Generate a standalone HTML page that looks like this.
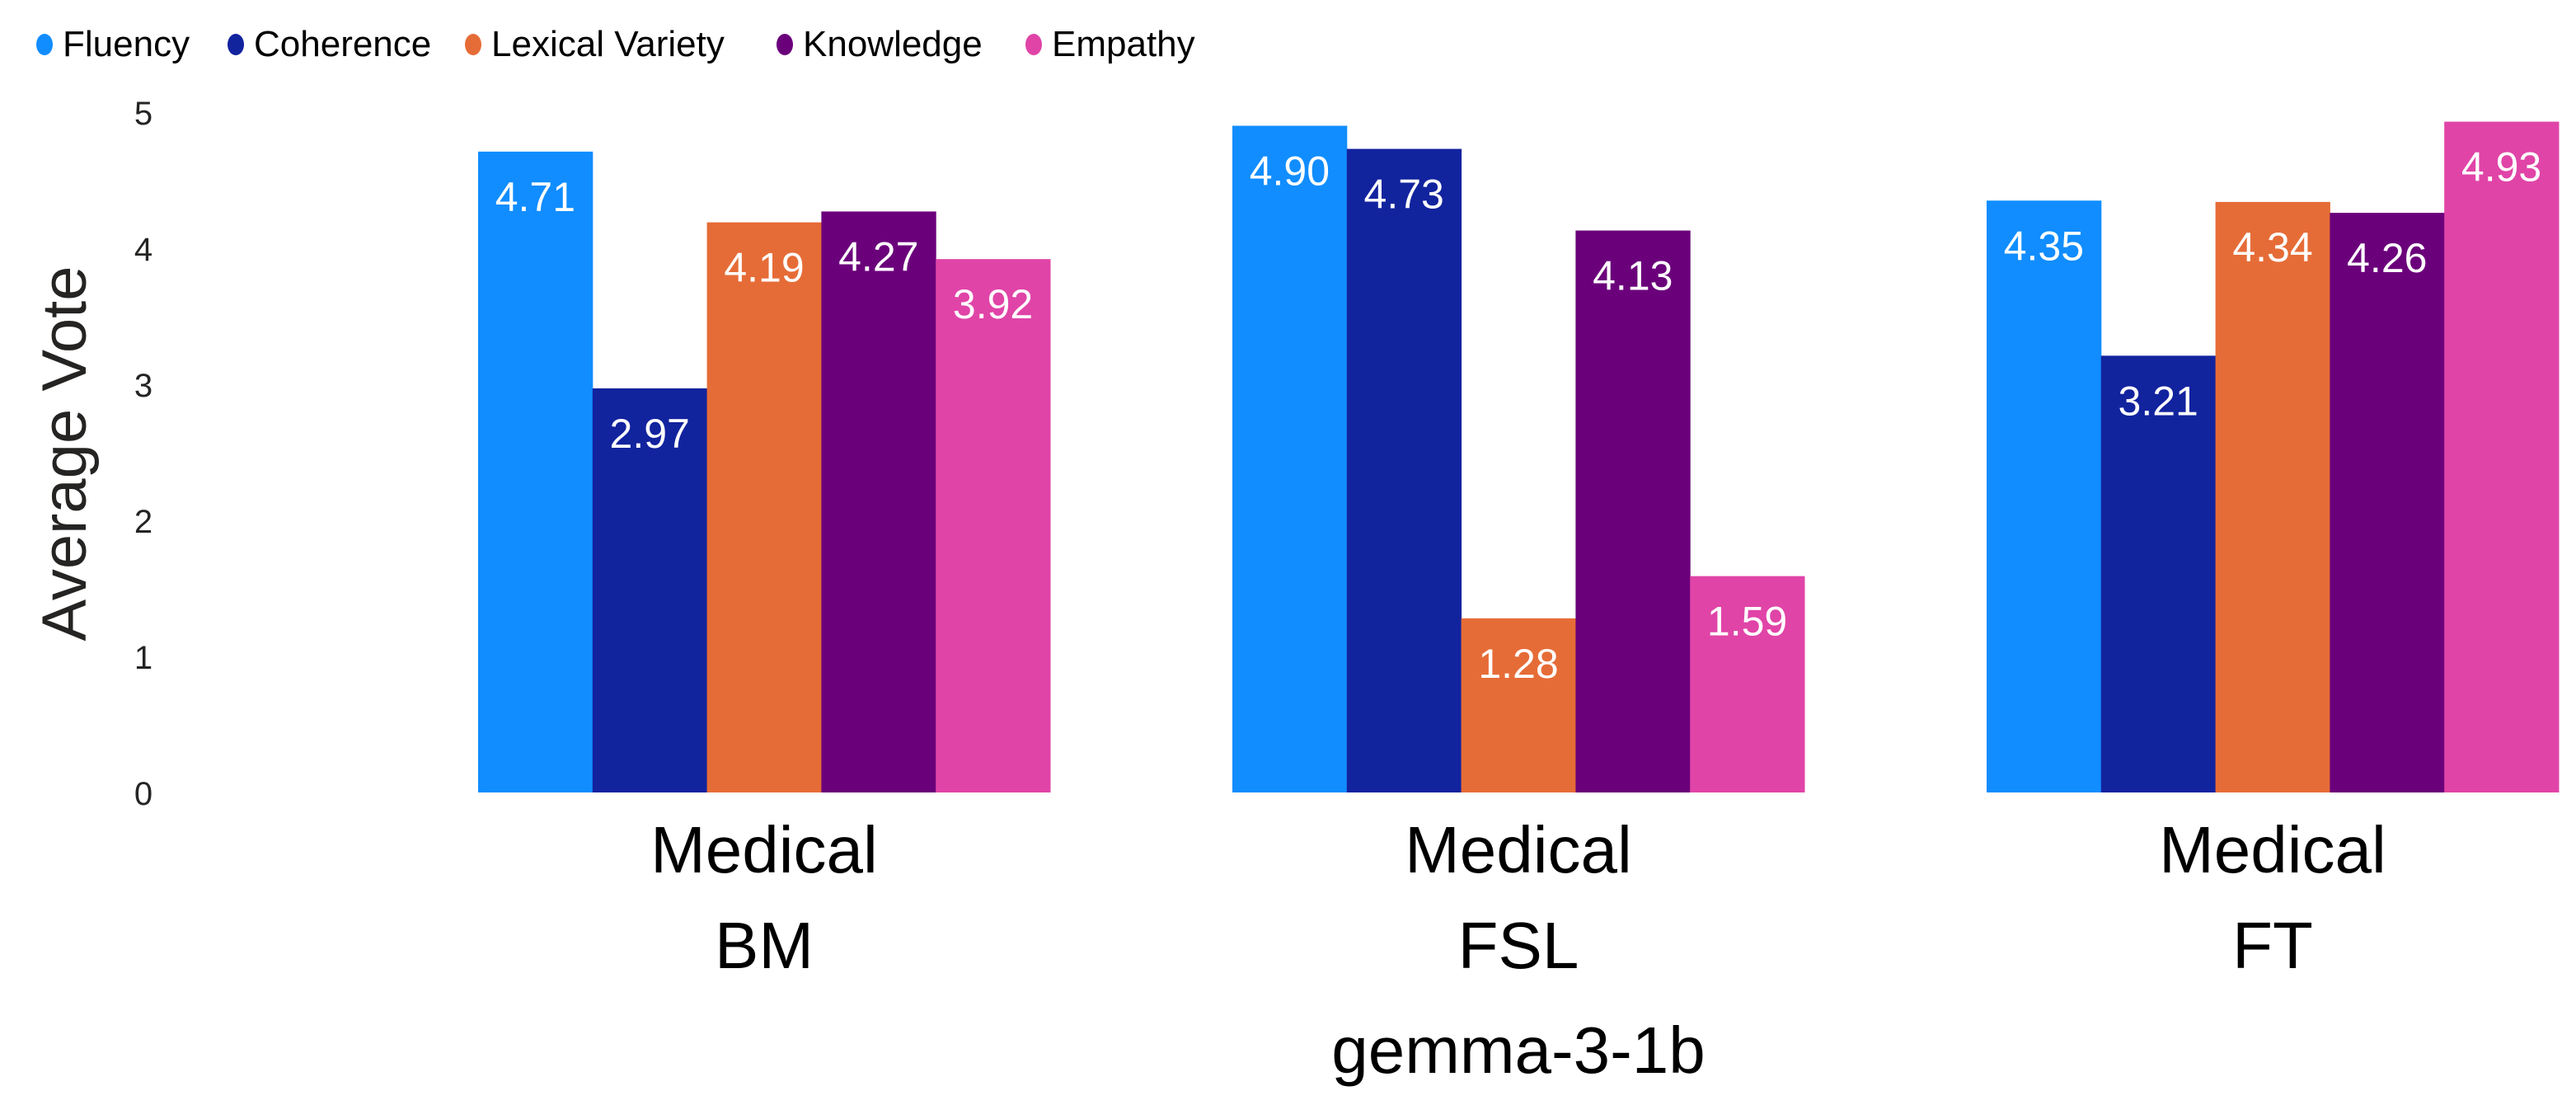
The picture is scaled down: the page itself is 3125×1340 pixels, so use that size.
<!DOCTYPE html>
<html><head><meta charset="utf-8"><style>
html,body{margin:0;padding:0;background:#fff;}
svg{display:block;font-family:"Liberation Sans",sans-serif;}
</style></head><body>
<svg id="chart" width="3125" height="1340" viewBox="0 0 3125 1340">
<g id="legend"></g>
<g id="yaxis"></g>
<text x="0" y="0" transform="translate(104,550) rotate(-90)" text-anchor="middle" font-size="76" fill="#252423">Average Vote</text>
<g id="bars"></g>
<g id="xaxis"></g>
</svg>
<script>
const seriesNames = ["Fluency","Coherence","Lexical Variety","Knowledge","Empathy"];
const seriesColors = ["#118DFF","#12239E","#E66C37","#6B007B","#E044A7"];
const categories = ["BM","FSL","FT"];
const categoryTop = "Medical";
const groupTitle = "gemma-3-1b";
const valuesBM = [4.71,2.97,4.19,4.27,3.92];
const valuesFSL = [4.90,4.73,1.28,4.13,1.59];
const valuesFT = [4.35,3.21,4.34,4.26,4.93];
const yTicks = [0,1,2,3,4,5];

const NS="http://www.w3.org/2000/svg";
const all=[valuesBM,valuesFSL,valuesFT];
const y0=961, y5=136;
function yScale(v){return y0-(y0-y5)*v/5;}
const groupW=694, firstCenter=927, step=915;
function xGroup(i){return firstCenter+i*step-groupW/2;}
const barW=groupW/5;
function mk(tag,attrs,parent){const e=document.createElementNS(NS,tag);for(const k in attrs)e.setAttribute(k,attrs[k]);parent.appendChild(e);return e;}

const yaxis=document.getElementById('yaxis');
yTicks.forEach(t=>{
  const e=mk('text',{x:174,y:yScale(t)+15,'text-anchor':'middle','font-size':40,fill:'#252423'},yaxis);
  
  
  e.textContent=t;
});

const bars=document.getElementById('bars');
all.forEach((vals,gi)=>{
  vals.forEach((v,si)=>{
    const x=xGroup(gi)+si*barW;
    const r=mk('rect',{x:x,y:yScale(v),width:barW+0.5,height:y0-yScale(v),fill:seriesColors[si]},bars);
    
    
    const t=mk('text',{x:x+barW/2,y:yScale(v)+72,'text-anchor':'middle','font-size':50,fill:'#fff'},bars);
    
    
    t.textContent=v.toFixed(2);
  });
});

const xaxis=document.getElementById('xaxis');
categories.forEach((c,i)=>{
  const cx=firstCenter+i*step;
  const a=mk('text',{x:cx,y:1058,'text-anchor':'middle','font-size':80,fill:'#000'},xaxis);
  
  
  a.textContent=categoryTop;
  const b=mk('text',{x:cx,y:1174,'text-anchor':'middle','font-size':80,fill:'#000'},xaxis);
  
  
  b.textContent=c;
});
const g=mk('text',{x:firstCenter+step,y:1301,'text-anchor':'middle','font-size':80,fill:'#000'},xaxis);


g.textContent=groupTitle;

const legend=document.getElementById('legend');
const dotX=[54,286,574,952,1254];
seriesNames.forEach((n,i)=>{
  const c=mk('ellipse',{cx:dotX[i],cy:54,rx:10,ry:13,fill:seriesColors[i]},legend);
  
  
  const t=mk('text',{x:dotX[i]+22,y:68,'font-size':44,fill:'#000'},legend);
  
  
  t.textContent=n;
});
</script>
</body></html>
